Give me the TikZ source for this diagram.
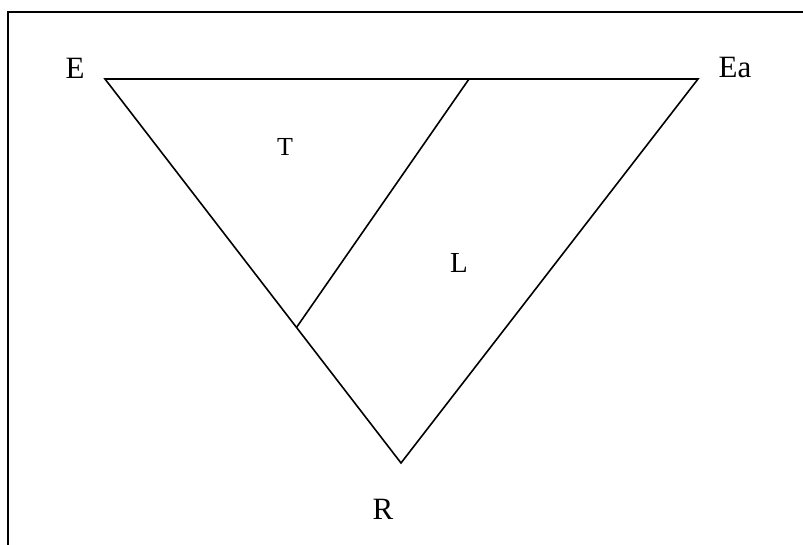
\documentclass[tikz,border=0pt]{standalone}
\usepackage{fontspec}
\setmainfont{Liberation Serif}
\usetikzlibrary{positioning, calc}

\begin{document}
\begin{tikzpicture}[
    x=1pt, y=-1pt,
    every node/.style={inner sep=0pt, font=\fontsize{31}{36}\selectfont},
    side/.style={line width=1.6pt, line join=miter},
    frame/.style={line width=2.6pt, line join=miter},
]

\useasboundingbox (0,0) rectangle (803,545);

% ---------------------------------------------------------------- frame (cut off)
\draw[frame] (8,545) -- (8,12) -- (803,12);

% ---------------------------------------------------------------- corners
\coordinate (cE)   at (105,79);
\coordinate (cEa)  at (698,79);
\coordinate (cR)   at (401,463);
\coordinate (cTop) at (469,79);    % split on the top side
\coordinate (cMid) at ($(cE)!0.647!(cR)$);

% ---------------------------------------------------------------- triangle
\draw[side] (cE) -- (cEa) -- (cR) -- cycle;
\draw[side] (cTop) -- (cMid);

% ---------------------------------------------------------------- labels
\node (lE)  at (75,68)  {E};
\node (lEa) at (735,68) {Ea};
\node (lR)  at (383,509) {R};
\node[font=\fontsize{26}{30}\selectfont] (lT) at (285,147) {T};
\node[font=\fontsize{29}{34}\selectfont] (lL) at (459,263) {L};

\end{tikzpicture}
\end{document}
